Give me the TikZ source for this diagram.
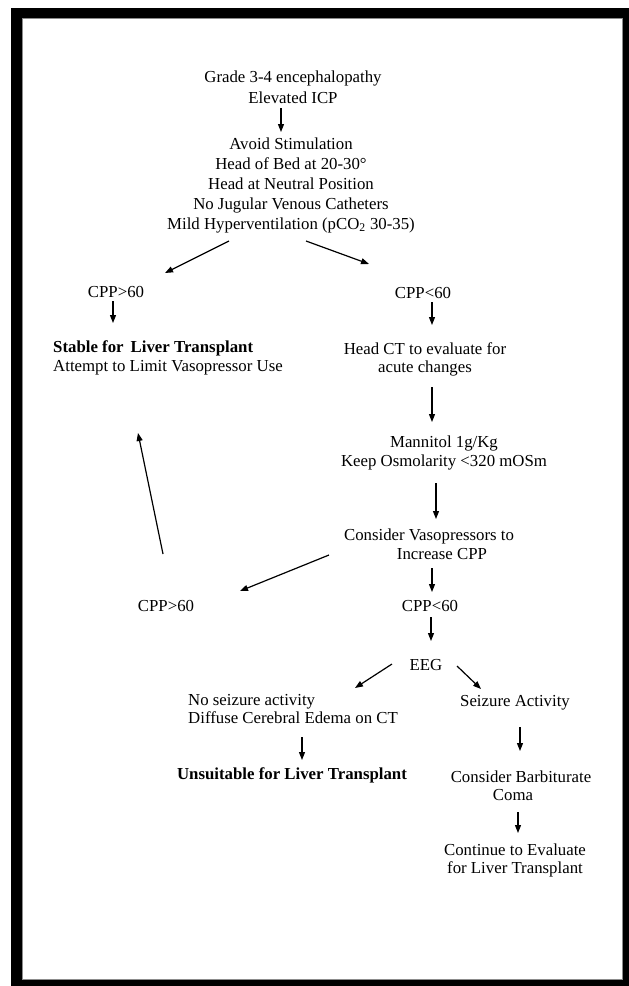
\documentclass[tikz,border=0pt]{standalone}
\usepackage{fontspec}
\setmainfont{Liberation Serif}
\usetikzlibrary{arrows.meta}
\tikzset{
  txt/.style={inner sep=0pt, align=center, font=\fontsize{16.8}{19}\selectfont},
  txtl/.style={txt, align=left, anchor=west},
  arr/.style={line width=1.2pt, -{Triangle[length=8pt,width=6pt]}},
}
\begin{document}
\begin{tikzpicture}[x=1pt,y=-1pt]
\useasboundingbox (0,0) rectangle (629,986);
\fill[white] (0,0) rectangle (629,986);
\fill[black] (11,8) rectangle (629,986);
\fill[white] (22,18) rectangle (623,980);
\draw[black!45, line width=1pt] (22.5,18.5) rectangle (622.5,979.5);

\node[txt, font=\fontsize{16.8}{20.5}\selectfont] (n1) at (293,87) {Grade 3-4 encephalopathy\\Elevated ICP};
\node[txt, font=\fontsize{16.8}{20}\selectfont] (n2) at (291,185) {Avoid Stimulation\\Head of Bed at 20-30°\\Head at Neutral Position\\No Jugular Venous Catheters\\Mild Hyperventilation (pCO\textsubscript{2} 30-35)};
\node[txt] (n3) at (116,292) {CPP>60};
\node[txtl] (n4) at (53,357.5) {\textbf{Stable for\, Liver Transplant}\\Attempt to Limit Vasopressor Use};
\node[txt] (n5) at (423,293) {CPP<60};
\node[txt, font=\fontsize{16.8}{18}\selectfont] (n6) at (425,359) {Head CT to evaluate for\\acute changes};
\node[txt] (n7) at (444,452.5) {Mannitol 1g/Kg\\Keep Osmolarity <320 mOSm};
\node[txt] (n8) at (429,544.5) {Consider Vasopressors to\\\hspace*{26pt}Increase CPP};
\node[txt] (n9) at (166,606) {CPP>60};
\node[txt] (n10) at (430,606) {CPP<60};
\node[txt] (n11) at (426,665) {EEG};
\node[txtl, font=\fontsize{16.8}{18}\selectfont] (n12) at (188,709) {No seizure activity\\Diffuse Cerebral Edema on CT};
\node[txt, font=\bfseries\fontsize{16.8}{19}\selectfont] (n13) at (292,775) {Unsuitable for Liver Transplant};
\node[txt] (n14) at (515,703) {Seizure Activity};
\node[txt, font=\fontsize{16.8}{18}\selectfont] (n15) at (521,786) {Consider Barbiturate\\Coma\hspace*{16pt}\null};
\node[txt, font=\fontsize{16.8}{18}\selectfont] (n16) at (515,860) {Continue to Evaluate\\for Liver Transplant};

\draw[arr] ([shift={(-12,21)}]n1.center) -- ([shift={(-10,-53)}]n2.center);
\draw[arr] ([shift={(-62,56)}]n2.center) -- ([shift={(49,-19)}]n3.center);
\draw[arr] ([shift={(15,56)}]n2.center) -- ([shift={(-54,-29)}]n5.center);
\draw[arr] ([shift={(-3,9)}]n3.center) -- ([shift={(60,-34.5)}]n4.west);
\draw[arr] ([shift={(9,9)}]n5.center) -- ([shift={(7,-34)}]n6.center);
\draw[arr] ([shift={(7,28)}]n6.center) -- ([shift={(-12,-30.5)}]n7.center);
\draw[arr] ([shift={(-8,30.5)}]n7.center) -- ([shift={(7,-25.5)}]n8.center);
\draw[arr] ([shift={(3,23.5)}]n8.center) -- ([shift={(2,-14)}]n10.center);
\draw[arr] ([shift={(-100,10.5)}]n8.center) -- ([shift={(74,-15)}]n9.center);
\draw[arr] ([shift={(-3,-52)}]n9.center) -- ([shift={(85,75.5)}]n4.west);
\draw[arr] ([shift={(1,11)}]n10.center) -- ([shift={(5,-24)}]n11.center);
\draw[arr] ([shift={(-34,-1)}]n11.center) -- ([shift={(167,-21)}]n12.west);
\draw[arr] ([shift={(31,1)}]n11.center) -- ([shift={(-34,-14)}]n14.center);
\draw[arr] ([shift={(114,28)}]n12.west) -- ([shift={(10,-15)}]n13.center);
\draw[arr] ([shift={(5,24)}]n14.center) -- ([shift={(-1,-35)}]n15.center);
\draw[arr] ([shift={(-3,26)}]n15.center) -- ([shift={(3,-27)}]n16.center);
\end{tikzpicture}
\end{document}
